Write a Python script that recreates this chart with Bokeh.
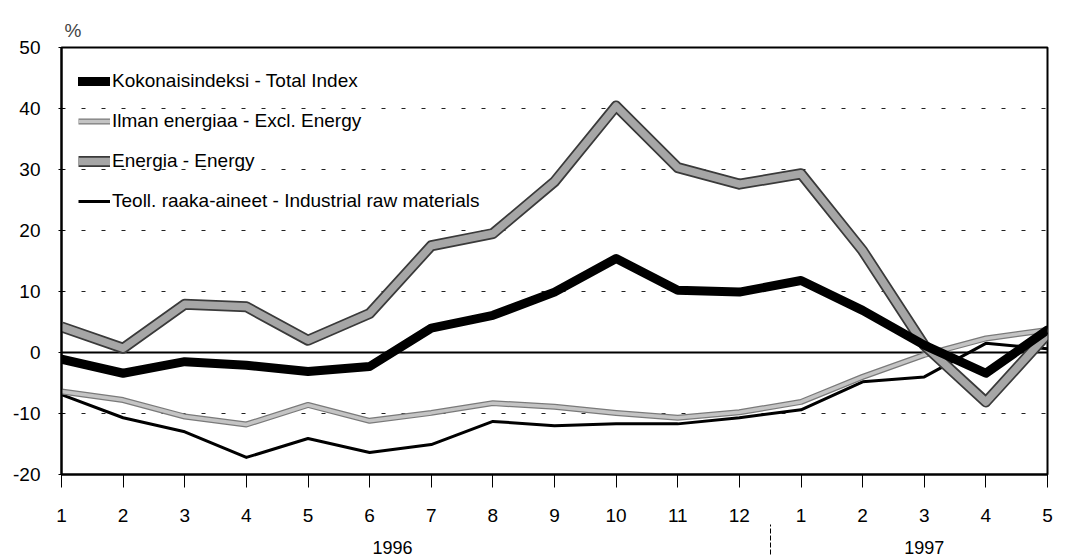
from bokeh.plotting import figure
from bokeh.models import LinearAxis, FixedTicker, Span, Legend, LegendItem
from bokeh.embed import file_html
from bokeh.resources import INLINE

# ---- data ----
months = list(range(1, 18))
month_labels = ["1", "2", "3", "4", "5", "6", "7", "8", "9", "10", "11", "12",
                "1", "2", "3", "4", "5"]
total_index = [-1.1, -3.4, -1.5, -2.1, -3.1, -2.3, 4.0, 6.1, 9.9, 15.4, 10.2, 9.9,
               11.8, 6.9, 1.2, -3.4, 3.7]
excl_energy = [-6.4, -7.8, -10.5, -11.8, -8.6, -11.2, -9.9, -8.3, -8.9, -9.9, -10.7, -9.8,
               -8.1, -4.0, -0.4, 2.3, 3.7]
energy = [4.2, 0.7, 7.9, 7.5, 2.0, 6.4, 17.5, 19.5, 28.0, 40.4, 30.3, 27.6,
          29.3, 16.7, 1.2, -8.1, 3.0]
raw_materials = [-6.9, -10.7, -13.0, -17.2, -14.1, -16.4, -15.1, -11.3, -12.0, -11.7, -11.7, -10.7,
                 -9.4, -4.8, -4.0, 1.5, 0.6]
y_ticks = [-20, -10, 0, 10, 20, 30, 40, 50]
years = ["1996", "1997"]
year_pos = [6.37, 15.0]
year_sep = [12.5]
names = ["Kokonaisindeksi - Total Index", "Ilman energiaa - Excl. Energy",
         "Energia - Energy", "Teoll. raaka-aineet - Industrial raw materials"]

FONT = "Liberation Sans"

p = figure(width=1057, height=556, x_range=(1, 17), y_range=(-20, 50),
           output_backend="svg", toolbar_location=None,
           min_border_left=61, min_border_right=10, min_border_top=47, min_border_bottom=81,
           title="%")
p.title.text_font = FONT
p.title.text_font_size = "19px"
p.title.text_font_style = "normal"
p.title.align = "left"
p.title.offset = 3
p.title.standoff = 13

p.outline_line_color = "black"
p.outline_line_width = 2
p.background_fill_color = "white"
p.border_fill_color = "white"

# grids
p.xgrid.visible = False
p.ygrid.ticker = FixedTicker(ticks=[-10, 10, 20, 30, 40])
p.ygrid.grid_line_color = "#222222"
p.ygrid.grid_line_dash = "4 16"
p.ygrid.grid_line_width = 1

zero = Span(location=0, dimension="width", line_color="black", line_width=2, level="underlay")
p.add_layout(zero)

# y axis
p.yaxis.ticker = FixedTicker(ticks=y_ticks)
p.yaxis.major_label_overrides = {t: str(t) for t in y_ticks}
p.yaxis.major_tick_in = 3
p.yaxis.major_tick_out = 3
p.yaxis.minor_tick_line_color = None
p.yaxis.axis_line_width = 2
p.yaxis.major_label_standoff = 18
p.yaxis.major_label_text_font = FONT
p.yaxis.major_label_text_font_size = "19px"
p.yaxis.major_label_text_color = "black"

# x axis (months)
p.xaxis.ticker = FixedTicker(ticks=months)
p.xaxis.major_label_overrides = {m: l for m, l in zip(months, month_labels)}
p.xaxis.major_tick_in = 0
p.xaxis.major_tick_out = 13
p.xaxis.minor_tick_line_color = None
p.xaxis.axis_line_width = 2
p.xaxis.major_label_standoff = 21
p.xaxis.major_label_text_font = FONT
p.xaxis.major_label_text_font_size = "19px"
p.xaxis.major_label_text_color = "black"

# year axis
yax = LinearAxis(ticker=FixedTicker(ticks=year_pos, minor_ticks=year_sep))
yax.major_label_overrides = {pos: y for pos, y in zip(year_pos, years)}
yax.axis_line_color = None
yax.major_tick_line_color = None
yax.major_tick_out = 0
yax.major_tick_in = 0
yax.minor_tick_in = 0
yax.minor_tick_out = 30
yax.minor_tick_line_color = "black"
yax.minor_tick_line_dash = "5 2"
yax.major_label_standoff = -14
yax.major_label_text_font = FONT
yax.major_label_text_font_size = "18px"
yax.major_label_text_color = "black"
p.add_layout(yax, "below")

# lines
r_raw = p.line(months, raw_materials, line_color="black", line_width=3, line_join="round")
r_ex_o = p.line(months, excl_energy, line_color="#7a7a7a", line_width=6, line_join="round")
r_ex_i = p.line(months, excl_energy, line_color="#c4c4c4", line_width=3.5, line_join="round")
r_en_o = p.line(months, energy, line_color="#3a3a3a", line_width=11, line_join="round")
r_en_i = p.line(months, energy, line_color="#a6a6a6", line_width=7.5, line_join="round")
r_tot = p.line(months, total_index, line_color="black", line_width=9, line_join="round",
               line_cap="round")

legend = Legend(items=[
    LegendItem(label=names[0], renderers=[r_tot]),
    LegendItem(label=names[1], renderers=[r_ex_o, r_ex_i]),
    LegendItem(label=names[2], renderers=[r_en_o, r_en_i]),
    LegendItem(label=names[3], renderers=[r_raw]),
], location=(17, 262))
legend.border_line_color = None
legend.background_fill_alpha = 0
legend.padding = 0
legend.margin = 0
legend.spacing = 18
legend.glyph_width = 32
legend.glyph_height = 20
legend.label_height = 20
legend.label_standoff = 2
legend.label_text_font = FONT
legend.label_text_font_size = "19px"
legend.label_text_color = "black"
p.add_layout(legend)

open("out.html", "w").write(file_html(p, INLINE))
